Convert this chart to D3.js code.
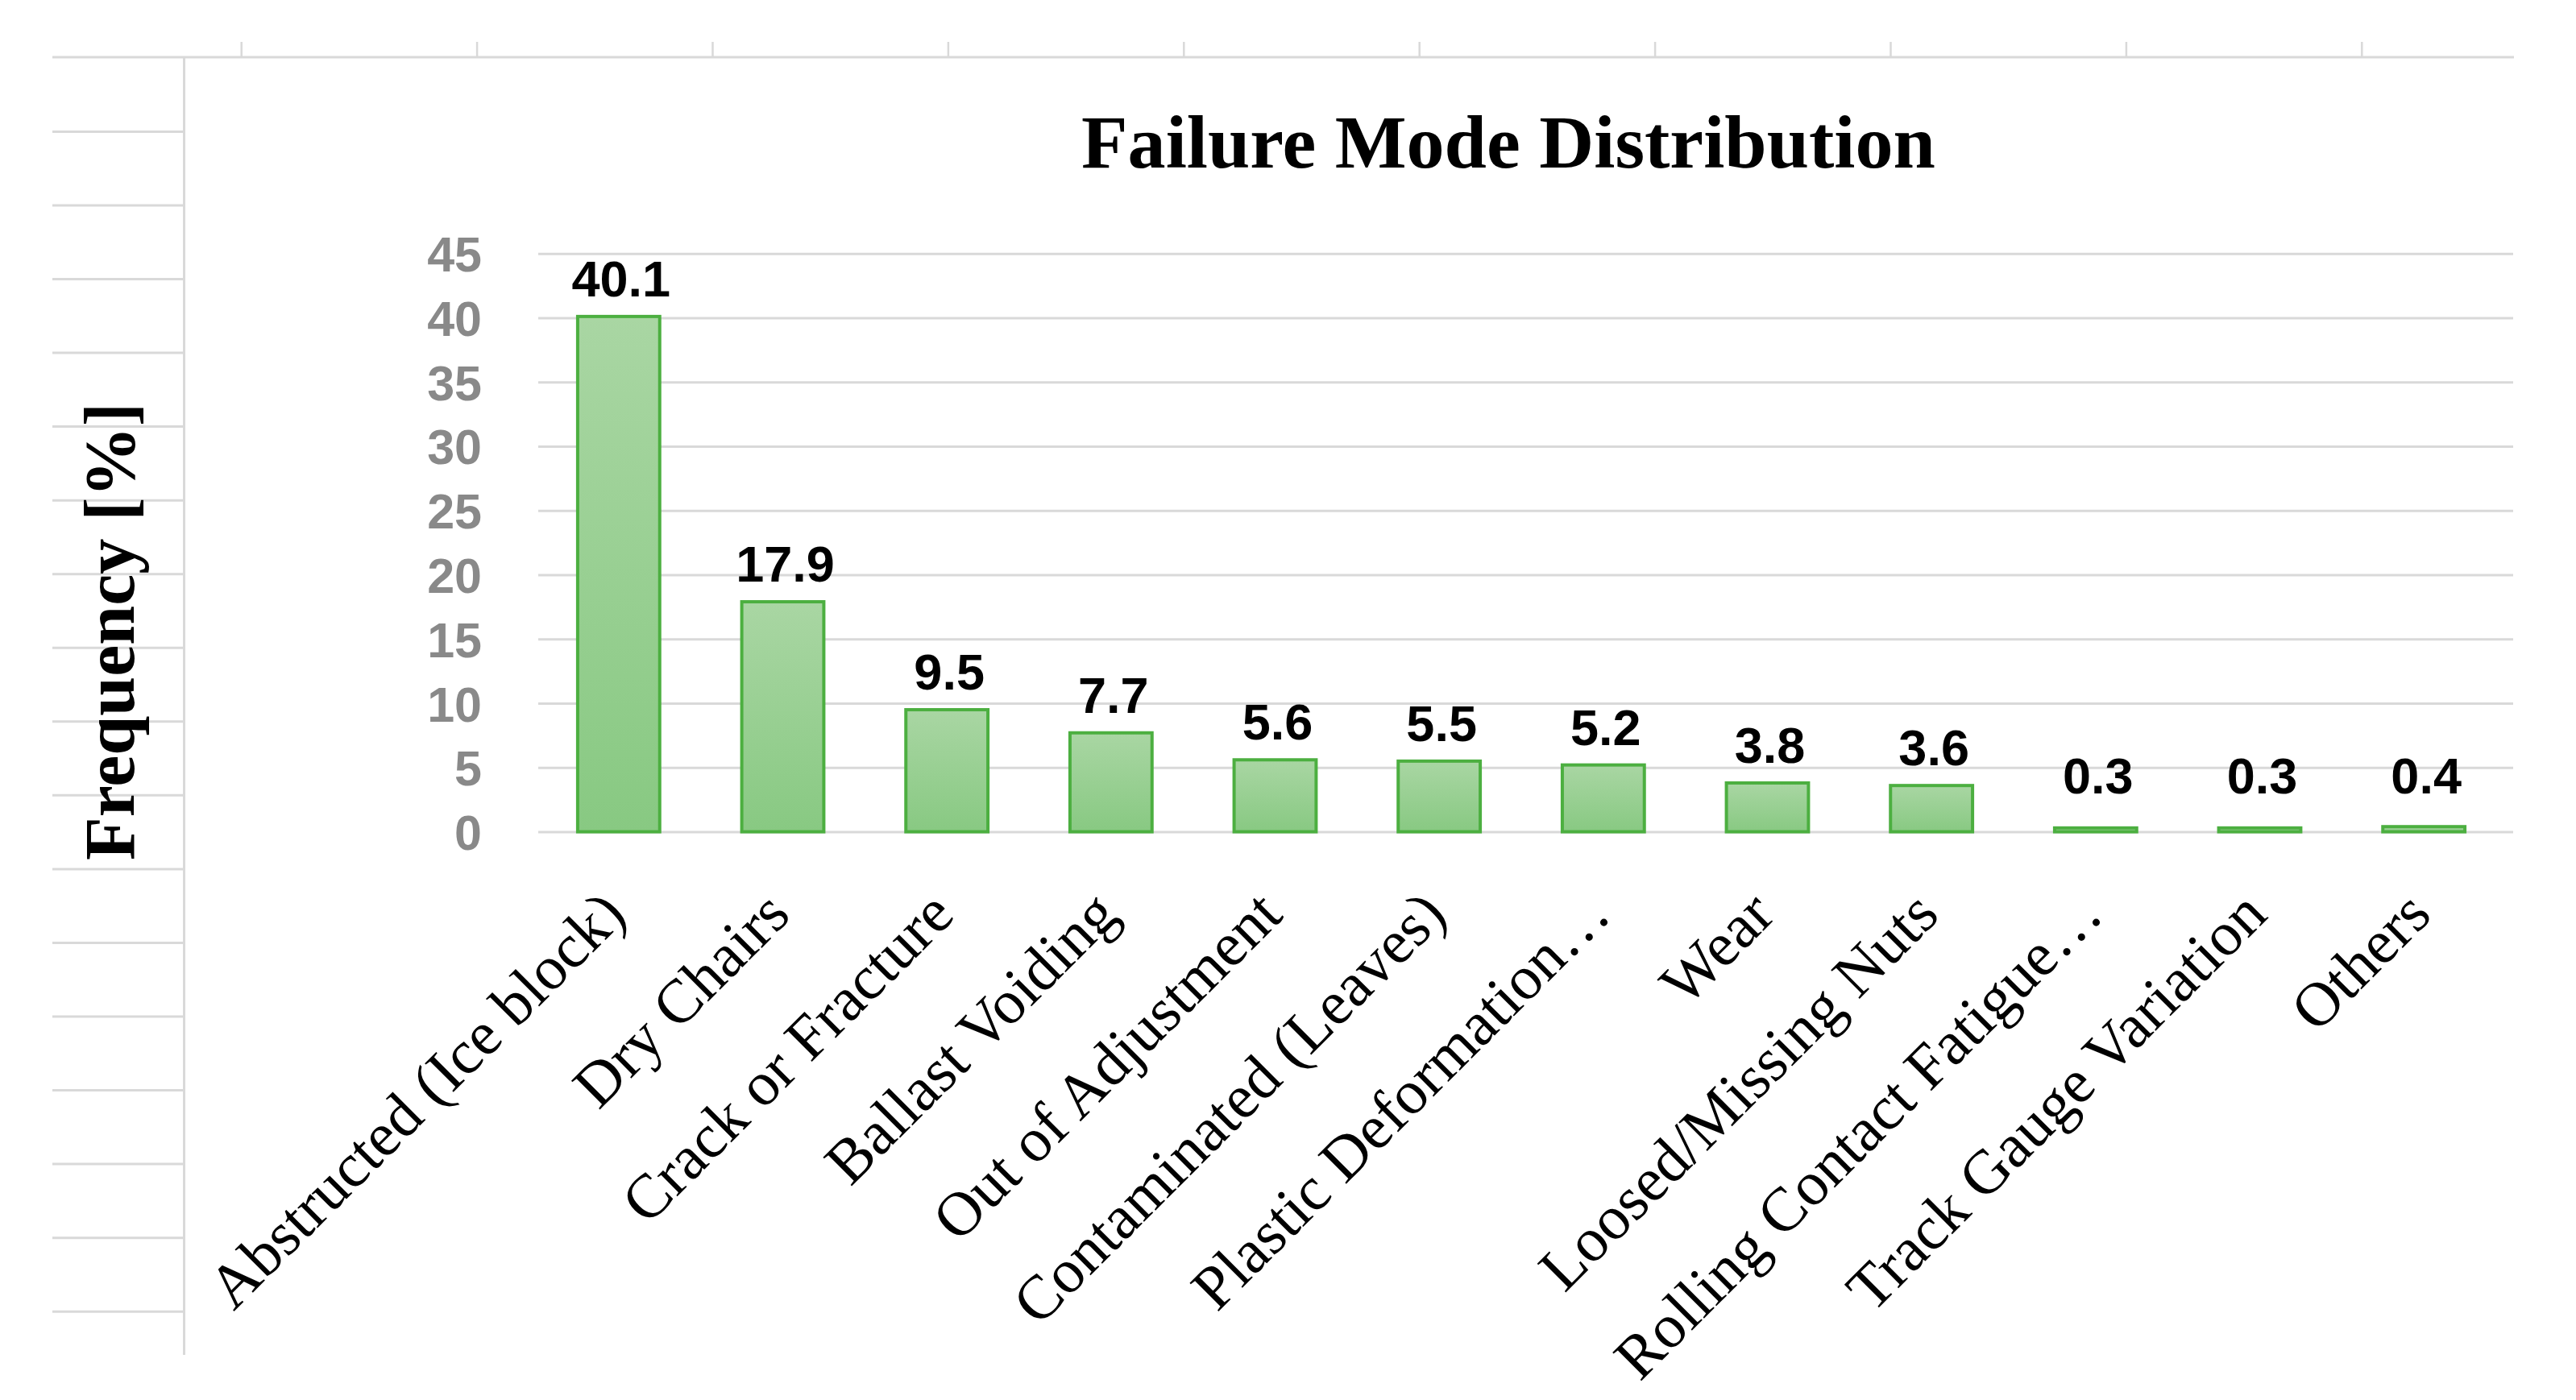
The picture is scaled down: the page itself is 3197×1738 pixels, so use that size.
<!DOCTYPE html>
<html>
<head>
<meta charset="utf-8">
<script src="https://cdn.jsdelivr.net/npm/d3@7"></script>
<style>
  html, body { margin: 0; padding: 0; background: #ffffff; }
  svg { display: block; }
</style>
</head>
<body>
<svg id="chart" width="3197" height="1738"></svg>
<script>
// ---- data ----
const categories = [
  "Abstructed (Ice block)",
  "Dry Chairs",
  "Crack or Fracture",
  "Ballast Voiding",
  "Out of Adjustment",
  "Contaminated (Leaves)",
  "Plastic Deformation\u2026",
  "Wear",
  "Loosed/Missing Nuts",
  "Rolling Contact Fatigue\u2026",
  "Track Gauge Variation",
  "Others"
];
const values = [40.1, 17.9, 9.5, 7.7, 5.6, 5.5, 5.2, 3.8, 3.6, 0.3, 0.3, 0.4];
const valueLabels = ["40.1", "17.9", "9.5", "7.7", "5.6", "5.5", "5.2", "3.8", "3.6", "0.3", "0.3", "0.4"];
const yTicks = [0, 5, 10, 15, 20, 25, 30, 35, 40, 45];
const chartTitle = "Failure Mode Distribution";
const yTitle = "Frequency [%]";

// ---- layout ----
const W = 3197, H = 1738;
const plot = { left: 668, right: 3119, bandRight: 3110, top: 314.7, bottom: 1032.6 };
const svg = d3.select("#chart");
svg.append("rect").attr("width", W).attr("height", H).attr("fill", "#ffffff");

// spreadsheet-like background lines
const sheet = svg.append("g").attr("stroke", "#d9d9d9").attr("stroke-width", 3).attr("fill", "none");
sheet.append("line").attr("x1", 65).attr("x2", 3120).attr("y1", 71).attr("y2", 71);
sheet.append("line").attr("x1", 228.5).attr("x2", 228.5).attr("y1", 71).attr("y2", 1682);
sheet.selectAll("line.col").data(d3.range(10)).join("line").attr("class", "col")
  .attr("x1", k => 299.7 + 292.4 * k).attr("x2", k => 299.7 + 292.4 * k)
  .attr("y1", 52).attr("y2", 71).attr("stroke-width", 2.5);
sheet.selectAll("line.row").data(d3.range(17)).join("line").attr("class", "row")
  .attr("x1", 65).attr("x2", 228)
  .attr("y1", k => 163.4 + 91.55 * k).attr("y2", k => 163.4 + 91.55 * k);

// scales
const x = d3.scaleBand().domain(categories).range([plot.left - 2, plot.bandRight]).paddingInner(0.5).paddingOuter(0.25);
const y = d3.scaleLinear().domain([0, 45]).range([plot.bottom, plot.top]);

// gradient
const defs = svg.append("defs");
const grad = defs.append("linearGradient").attr("id", "barGrad").attr("x1", 0).attr("y1", 0).attr("x2", 0).attr("y2", 1);
grad.append("stop").attr("offset", "0%").attr("stop-color", "#a9d6a3");
grad.append("stop").attr("offset", "100%").attr("stop-color", "#88c982");

// gridlines
const grid = svg.append("g").attr("transform", `translate(${plot.left},0)`)
  .call(d3.axisLeft(y).tickValues(yTicks).tickSize(-(plot.right - plot.left)).tickFormat(""));
grid.select(".domain").remove();
grid.selectAll(".tick line").attr("stroke", "#d9d9d9").attr("stroke-width", 3);

// y tick labels
const yAxis = svg.append("g").attr("transform", `translate(${plot.left},0)`)
  .call(d3.axisLeft(y).tickValues(yTicks).tickSize(0).tickPadding(70).tickFormat(d3.format("d")));
yAxis.select(".domain").remove();
yAxis.selectAll("text")
  .attr("font-family", "'Liberation Sans', Arial, sans-serif")
  .attr("font-weight", "bold")
  .attr("font-size", 61)
  .attr("fill", "#898989")
  .attr("dy", "0.36em");

// bars
const data = categories.map((c, i) => ({ c, v: values[i], label: valueLabels[i] }));
svg.append("g").selectAll("rect").data(data).join("rect")
  .attr("x", d => x(d.c))
  .attr("width", x.bandwidth())
  .attr("y", d => y(d.v))
  .attr("height", d => y(0) - y(d.v))
  .attr("fill", "url(#barGrad)")
  .attr("stroke", "#4caf40")
  .attr("stroke-width", 4);

// value labels
svg.append("g").selectAll("text").data(data).join("text")
  .attr("x", d => x(d.c) + x.bandwidth() / 2 + 3)
  .attr("y", d => Math.min(y(d.v) - 25, y(0) - 47.5))
  .attr("text-anchor", "middle")
  .attr("font-family", "'Liberation Sans', Arial, sans-serif")
  .attr("font-weight", "bold")
  .attr("font-size", 63)
  .attr("fill", "#000000")
  .text(d => d.label);

// x axis labels
const xAxis = svg.append("g").attr("transform", `translate(0,${plot.bottom})`)
  .call(d3.axisBottom(x).tickSize(0));
xAxis.select(".domain").remove();
xAxis.selectAll("text")
  .attr("x", 0).attr("y", 0).attr("dy", 0)
  .attr("text-anchor", "end")
  .attr("transform", "translate(12,106) rotate(-45)")
  .attr("font-family", "'Liberation Serif', 'Times New Roman', serif")
  .attr("font-size", 77)
  .attr("fill", "#000000");

// title (fit to measured width)
const title = svg.append("text")
  .attr("x", 1872).attr("y", 208)
  .attr("text-anchor", "middle")
  .attr("font-family", "'Liberation Serif', 'Times New Roman', serif")
  .attr("font-weight", "bold")
  .attr("font-size", 90)
  .attr("fill", "#000000")
  .text(chartTitle);
{
  const len = title.node().getComputedTextLength();
  title.attr("font-size", 90 * 1060 / len);
}

// y title
const yt = svg.append("text")
  .attr("transform", "translate(166,784) rotate(-90)")
  .attr("text-anchor", "middle")
  .attr("font-family", "'Liberation Serif', 'Times New Roman', serif")
  .attr("font-weight", "bold")
  .attr("font-size", 88)
  .attr("fill", "#000000")
  .text(yTitle);
{
  const len = yt.node().getComputedTextLength();
  yt.attr("font-size", 88 * 568 / len);
}
</script>
</body>
</html>
